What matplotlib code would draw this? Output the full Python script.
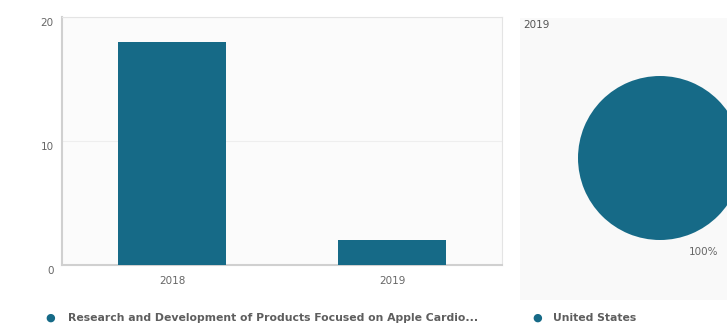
import numpy as np
import matplotlib.pyplot as plt
from matplotlib.patches import Rectangle
from matplotlib.transforms import ScaledTranslation

years = ['2018', '2019']
bar_values = [18, 2]
bar_series = 'Research and Development of Products Focused on Apple Cardio...'
y_ticks = [0, 10, 20]

pie_title = '2019'
pie_labels = ['United States']
pie_values = [1]
pie_texts = ['100%']

color = '#166a87'
text_color = '#666666'
W, H = 727, 324


def box(x0, y0, x1, y1):
    # pixel box (top-left origin) -> figure fraction rect
    return [x0 / W, 1 - y1 / H, (x1 - x0) / W, (y1 - y0) / H]


fig = plt.figure(figsize=(W / 100, H / 100), dpi=100)
fig.patch.set_facecolor('white')

# right panel background
fig.patches.append(Rectangle((520 / W, 1 - 300 / H), 207 / W, 282 / H,
                             transform=fig.transFigure, facecolor='#f9f9f9',
                             edgecolor='none', zorder=-1))

ax = fig.add_axes(box(62, 17, 502, 265))
ax.set_facecolor('#fbfbfb')
x = np.arange(len(years))
ax.bar(x, bar_values, width=0.49, color=color, zorder=3)
ax.set_xlim(-0.5, 1.5)
ax.set_ylim(0, 20)
ax.set_xticks(x)
ax.set_xticklabels(years)
ax.set_yticks(y_ticks)
ax.set_yticklabels([str(v) for v in y_ticks])
ax.tick_params(axis='both', length=0, labelsize=7.5, colors=text_color)
ax.tick_params(axis='y', pad=6)
ax.tick_params(axis='x', pad=8)
# y labels sit a little below their gridlines in the reference
shift = ScaledTranslation(0, -5 / 100, fig.dpi_scale_trans)
for lab in ax.get_yticklabels():
    lab.set_transform(lab.get_transform() + shift)
ax.grid(axis='y', color='#eeeeee', linewidth=0.8, zorder=0)
for s in ['top', 'right']:
    ax.spines[s].set_color('#e4e4e4')
    ax.spines[s].set_linewidth(0.8)
for s in ['left', 'bottom']:
    ax.spines[s].set_color('#d0d0d0')
    ax.spines[s].set_linewidth(1.5)

fig.text(50 / W, 1 - 318 / H, '\u25cf', color=color, fontsize=8, ha='center', va='center')
fig.text(68 / W, 1 - 318 / H, bar_series, color='#5e5e5e', fontsize=7.8,
         fontweight='bold', ha='left', va='center')

# pie (startangle chosen as an exact binary fraction of 360 so the single wedge closes)
pax = fig.add_axes(box(578, 76, 742, 240))
pax.pie(pie_values, labels=pie_texts, colors=[color], startangle=106.875,
        labeldistance=1.2, textprops={'fontsize': 7.5, 'color': text_color},
        wedgeprops={'linewidth': 0})
pax.set_xlim(-1, 1)
pax.set_ylim(-1, 1)
pax.set_aspect('equal')
pax.axis('off')

fig.text(523 / W, 1 - 25 / H, pie_title, color='#555555', fontsize=7.5, ha='left', va='center')
fig.text(537 / W, 1 - 318 / H, '\u25cf', color=color, fontsize=8, ha='center', va='center')
fig.text(553 / W, 1 - 318 / H, pie_labels[0], color='#5e5e5e', fontsize=7.8,
         fontweight='bold', ha='left', va='center')

fig.savefig('out.png', dpi=100)
